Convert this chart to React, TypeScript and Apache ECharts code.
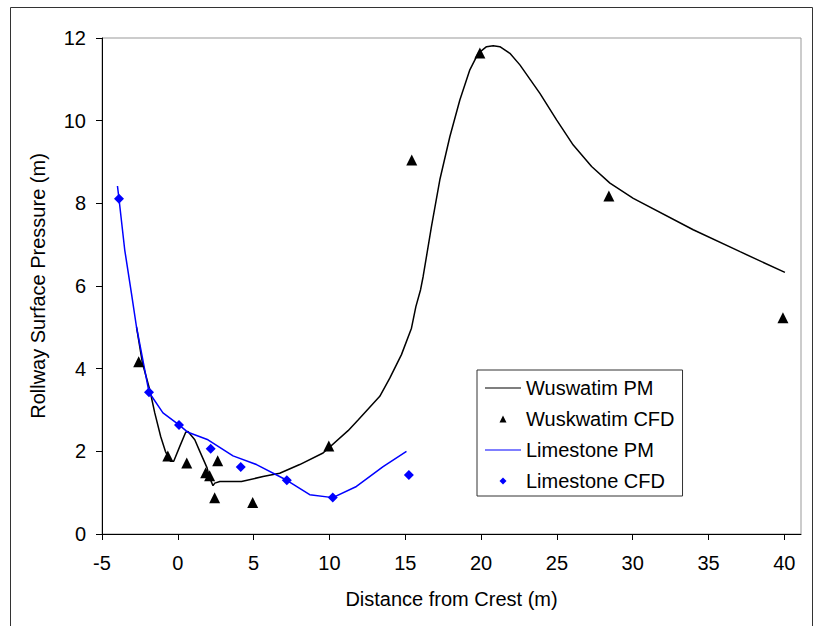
import React, { useEffect, useRef } from "react";
import * as echarts from "echarts";

const xTickValues = [-5, 0, 5, 10, 15, 20, 25, 30, 35, 40];

const wusPmX = [-2.72, -2.33, -1.85, -1.52, -1.13, -0.82, -0.49, -0.27, 0.13, 0.52, 0.67, 1.12, 1.45, 1.93, 2.11, 2.32, 2.44, 2.77, 4.2, 5.62, 6.72, 8.04, 9.58, 11.23, 11.89, 13.32, 13.98, 14.75, 15.41, 15.7, 16.01, 16.18, 16.73, 17.28, 17.94, 18.6, 19.26, 19.81, 20.36, 20.8, 21.24, 21.9, 22.56, 23.88, 24.98, 26.08, 27.29, 28.5, 30.04, 33.99, 37.08, 40.04];
const wusPmY = [5.0, 4.13, 3.49, 2.93, 2.36, 2.0, 1.76, 1.76, 2.12, 2.46, 2.48, 2.28, 2.0, 1.6, 1.35, 1.17, 1.23, 1.27, 1.27, 1.39, 1.47, 1.68, 1.96, 2.5, 2.76, 3.33, 3.77, 4.34, 4.98, 5.5, 5.91, 6.23, 7.44, 8.57, 9.61, 10.5, 11.23, 11.63, 11.79, 11.81, 11.79, 11.63, 11.35, 10.66, 10.02, 9.41, 8.89, 8.49, 8.12, 7.36, 6.83, 6.33];

const wusCfdX = [-2.58, -0.66, 0.59, 1.84, 2.1, 2.63, 2.43, 4.94, 9.96, 15.43, 19.92, 28.43, 39.91];
const wusCfdY = [4.17, 1.89, 1.72, 1.48, 1.41, 1.77, 0.88, 0.76, 2.13, 9.05, 11.64, 8.18, 5.23];

const limPmX = [-3.98, -3.88, -3.5, -3.06, -2.73, -1.9, -0.98, 0.08, 0.67, 1.99, 3.64, 5.19, 7.19, 8.7, 10.22, 11.78, 13.54, 15.08];
const limPmY = [8.42, 8.11, 6.87, 5.83, 5.02, 3.43, 2.93, 2.64, 2.46, 2.28, 1.89, 1.68, 1.3, 0.95, 0.88, 1.15, 1.63, 2.0];

const limCfdX = [-3.88, -1.9, 0.08, 2.17, 4.15, 7.19, 10.22, 15.24];
const limCfdY = [8.11, 3.43, 2.64, 2.06, 1.62, 1.3, 0.885, 1.43];

const zip = (xs: number[], ys: number[]) => xs.map((x, i) => [x, ys[i]]);

const FONT = "'Liberation Sans', Arial, sans-serif";
const LINE_ICON = "path://M0,0 M36,14 M0,6.4 L36,6.4 L36,7.6 L0,7.6 Z";
const TRI_ICON = "path://M0,0 M36,14 M14.5,10.5 L18,3.5 L21.5,10.5 Z";
const DIA_ICON = "path://M0,0 M36,14 M18,3.5 L21.5,7 L18,10.5 L14.5,7 Z";

export default function App() {
  const ref = useRef<HTMLDivElement>(null);
  useEffect(() => {
    if (!ref.current) return;
    const chart = echarts.init(ref.current, null, { renderer: "svg" });
    chart.setOption({
      animation: false,
      backgroundColor: "#fff",
      textStyle: { fontFamily: FONT },
      grid: {
        left: 102,
        top: 38,
        width: 699,
        height: 496,
        show: true,
        borderColor: "#999",
        borderWidth: 1,
        backgroundColor: "#fff",
      },
      xAxis: {
        type: "value",
        min: -5,
        max: 41.1,
        name: "Distance from Crest (m)",
        nameLocation: "middle",
        nameGap: 55,
        nameTextStyle: { fontSize: 20, color: "#000", fontFamily: FONT },
        splitLine: { show: false },
        axisLine: { onZero: false, lineStyle: { color: "#000", width: 1 } },
        axisTick: { length: 6, lineStyle: { color: "#000" }, customValues: xTickValues },
        axisLabel: { fontSize: 20, color: "#000", margin: 19, fontFamily: FONT, customValues: xTickValues },
      },
      yAxis: {
        type: "value",
        min: 0,
        max: 12,
        interval: 2,
        name: "Rollway Surface Pressure (m)",
        nameLocation: "middle",
        nameGap: 54,
        nameTextStyle: { fontSize: 20, color: "#000", fontFamily: FONT },
        splitLine: { show: false },
        axisLine: { show: true, onZero: false, lineStyle: { color: "#000", width: 1 } },
        axisTick: { show: true, length: 6, lineStyle: { color: "#000" } },
        axisLabel: { fontSize: 20, color: "#000", margin: 16, fontFamily: FONT },
      },
      legend: {
        orient: "vertical",
        left: 477,
        top: 370,
        itemWidth: 36,
        itemHeight: 14,
        itemGap: 11,
        padding: [8, 8, 5, 8],
        borderColor: "#333",
        borderWidth: 1,
        backgroundColor: "#fff",
        selectedMode: false,
        textStyle: { fontSize: 20, color: "#000", fontFamily: FONT },
        data: [
          { name: "Wuswatim PM", icon: LINE_ICON },
          { name: "Wuskwatim CFD", icon: TRI_ICON },
          { name: "Limestone PM", icon: LINE_ICON },
          { name: "Limestone CFD", icon: DIA_ICON },
        ],
      },
      graphic: [
        {
          type: "rect",
          silent: true,
          shape: { x: 10.5, y: 7.5, width: 802, height: 700 },
          style: { fill: "none", stroke: "#333", lineWidth: 1 },
        },
      ],
      series: [
        {
          name: "Wuswatim PM",
          type: "line",
          symbol: "none",
          data: zip(wusPmX, wusPmY),
          lineStyle: { color: "#000", width: 1.5 },
          itemStyle: { color: "#000" },
          z: 2,
        },
        {
          name: "Limestone PM",
          type: "line",
          symbol: "none",
          data: zip(limPmX, limPmY),
          lineStyle: { color: "#0000ff", width: 1.5 },
          itemStyle: { color: "#0000ff" },
          z: 2,
        },
        {
          name: "Wuskwatim CFD",
          type: "scatter",
          symbol: "triangle",
          symbolSize: 11,
          data: zip(wusCfdX, wusCfdY),
          itemStyle: { color: "#000", opacity: 1 },
          z: 3,
        },
        {
          name: "Limestone CFD",
          type: "scatter",
          symbol: "diamond",
          symbolSize: 10,
          data: zip(limCfdX, limCfdY),
          itemStyle: { color: "#0000ff", opacity: 1 },
          z: 3,
        },
      ],
    });
    return () => chart.dispose();
  }, []);
  return (
    <div
      ref={ref}
      style={{ position: "fixed", left: 0, top: 0, width: 815, height: 626 }}
    />
  );
}
